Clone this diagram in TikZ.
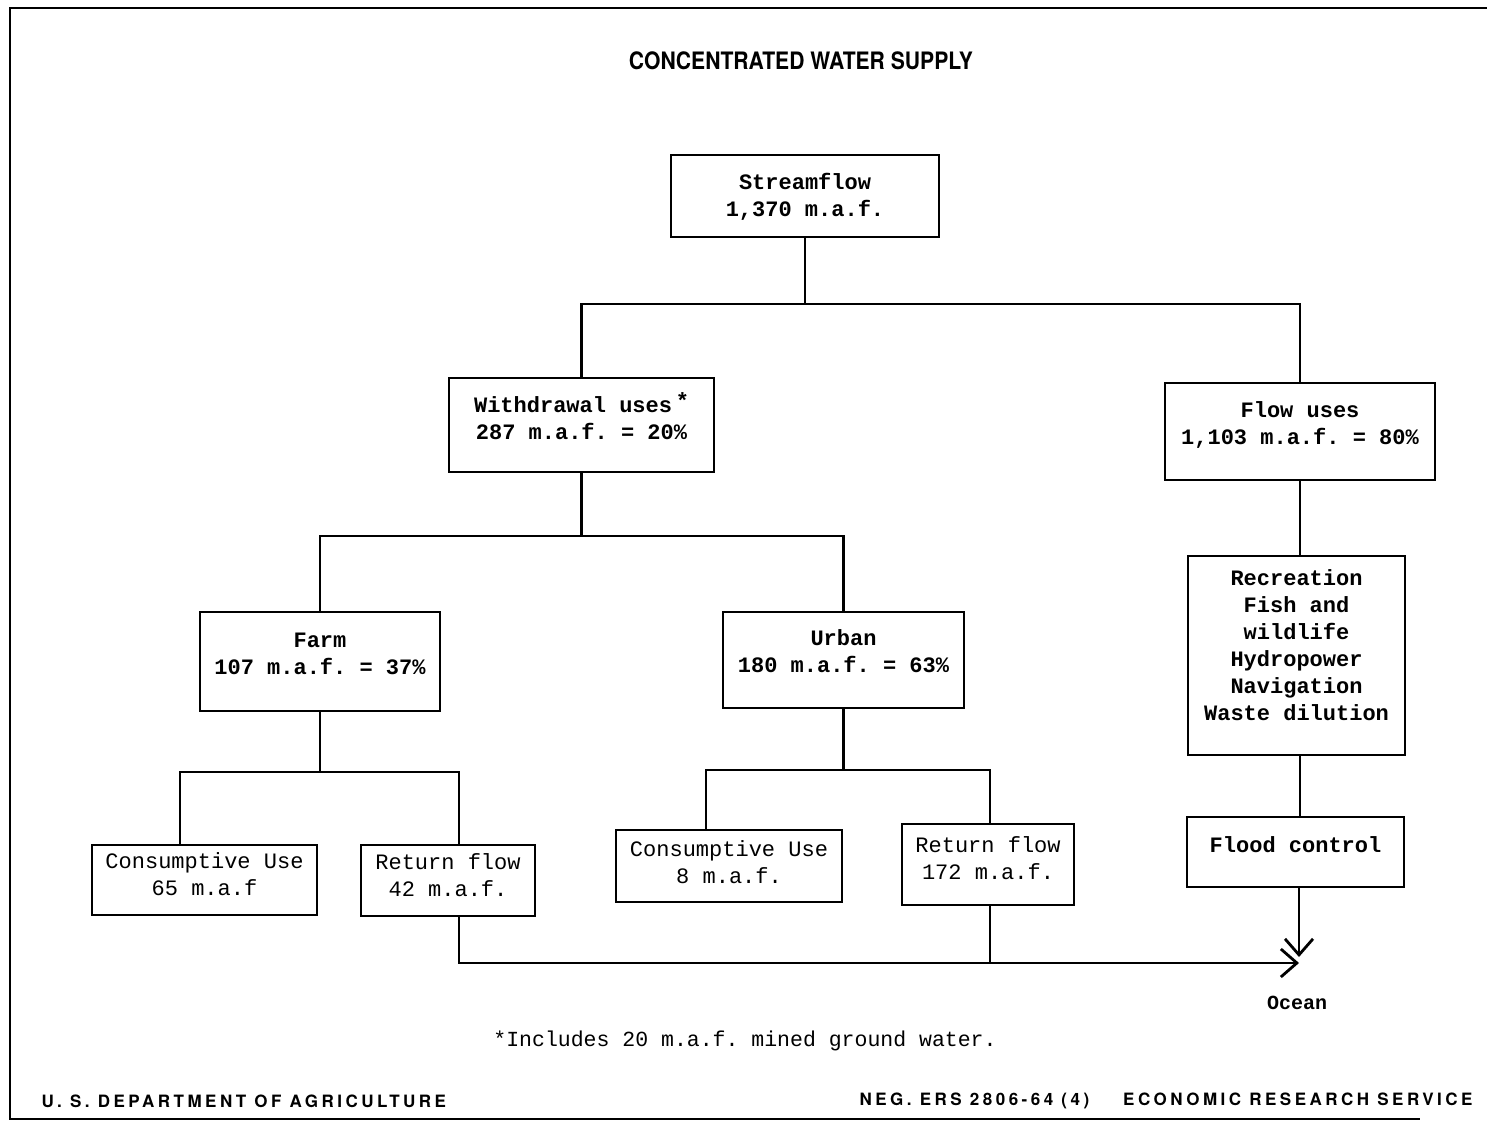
\documentclass[tikz,border=0pt]{standalone}
\usepackage{fontspec}
\setmonofont{Liberation Mono}
\newfontfamily\titlefont[FakeStretch=0.88]{TeX Gyre Heros}
\newfontfamily\footfont[LetterSpace=20.5]{TeX Gyre Heros}
\usepackage{tikz}
\usetikzlibrary{arrows.meta,positioning}
\tikzset {
	box/.style={rectangle, draw, line width=2.2pt, align=center, inner sep=0pt,
				font=\fontsize{22}{27}\selectfont\ttfamily\bfseries},
	light/.style={box, font=\fontsize{22}{27}\selectfont\ttfamily},
	lift/.style={text depth=#1},
	link/.style={line width=2.6pt},
	tosea/.style={link, -{Straight Barb[length=16pt,width=28pt,line width=2.8pt]}}
}

\begin{document}
\begin{tikzpicture}[x=1pt,y=-1pt]
					\useasboundingbox (0,0) rectangle (1487,1123);
					% frame
					\draw[line width=2.4pt] (1487,8) -- (10,8) -- (10,1119) -- (1420,1119);
					\node[font=\titlefont\fontsize{24}{28}\selectfont\bfseries] (title) at (801,61) {CONCENTRATED WATER SUPPLY};
					% boxes
					\node[box, lift=3pt, minimum width=268pt, minimum height=82pt] (stream) at (805,196) {Streamflow\\1,370 m.a.f.};
					\node[box, lift=18pt, minimum width=265pt, minimum height=94pt] (withdraw) at (581.5,425) {Withdrawal uses\,\raisebox{4pt}{*}\\287 m.a.f. = 20\%};
					\node[box, lift=16pt, minimum width=270pt, minimum height=97pt] (flow) at (1300,431.5) {Flow uses\\1,103 m.a.f. = 80\%};
					\node[box, lift=16pt, minimum width=240pt, minimum height=99pt] (farm) at (320,661.5) {Farm\\107 m.a.f. = 37\%};
					\node[box, lift=18pt, minimum width=241pt, minimum height=96pt] (urban) at (843.5,660) {Urban\\180 m.a.f. = 63\%};
					\node[light, lift=12pt, minimum width=225pt, minimum height=70pt] (cons1) at (204.5,880) {Consumptive Use\\65 m.a.f};
					\node[light, lift=10pt, minimum width=174pt, minimum height=71pt] (ret1) at (448,880.5) {Return flow\\42 m.a.f.};
					\node[light, lift=8pt, minimum width=226pt, minimum height=72pt] (cons2) at (729,866) {Consumptive Use\\8 m.a.f.};
					\node[light, lift=12pt, minimum width=172pt, minimum height=81pt] (ret2) at (988,864.5) {Return flow\\172 m.a.f.};
					\node[box, lift=20pt, minimum width=217pt, minimum height=199pt] (recr) at (1296.5,655.5) {Recreation\\Fish and\\wildlife\\Hydropower\\Navigation\\Waste dilution};
					\node[box, lift=14pt, minimum width=217pt, minimum height=70pt] (flood) at (1295.5,852) {Flood control};
					\node[font=\fontsize{20}{24}\selectfont\ttfamily\bfseries] (ocean) at (1297,1003) {Ocean};
					\coordinate (sea) at (1299,963);
					% connectors
					\draw[link] (stream.south) -- ++(0,66) coordinate (j1);
					\draw[link] (withdraw.north) |- (j1) -| (flow.north);
					\draw[link] (withdraw.south) -- ++(0,63) coordinate (j2);
					\draw[link] (farm.north) |- (j2) -| (urban.north);
					\draw[link] (farm.south) -- ++(0,60) coordinate (j3);
					\draw[link] ([xshift=-24.5pt]cons1.north) |- (j3) -| ([xshift=11pt]ret1.north);
					\draw[link] (urban.south) -- ++(0,61) coordinate (j4);
					\draw[link] ([xshift=-23pt]cons2.north) |- (j4) -| ([xshift=2pt]ret2.north);
					\draw[link] (flow.south) -- (flow.south |- recr.north);
					\draw[link] (flow.south |- recr.south) -- (flow.south |- flood.north);
					\draw[tosea] ([xshift=11pt]ret1.south) |- (sea);
					\draw[link] ([xshift=2pt]ret2.south) -- ([xshift=2pt]ret2.south |- sea);
					\draw[tosea] (sea |- flood.south) -- ([yshift=6pt]sea);
					% notes
					\node[font=\fontsize{21.5}{25}\selectfont\ttfamily] (note) at (745,1041) {*Includes 20 m.a.f. mined ground water.};
					\node[font=\footfont\bfseries\fontsize{17}{20}\selectfont, anchor=west] (usda) at (38,1101) {U. S. DEPARTMENT OF AGRICULTURE};
					\node[font=\footfont\bfseries\fontsize{17}{20}\selectfont, anchor=east] (ers) at (1476,1101) {NEG. ERS 2806-64 (4)\hspace{34pt}ECONOMIC RESEARCH SERVICE};
\end{tikzpicture}
\end{document}
